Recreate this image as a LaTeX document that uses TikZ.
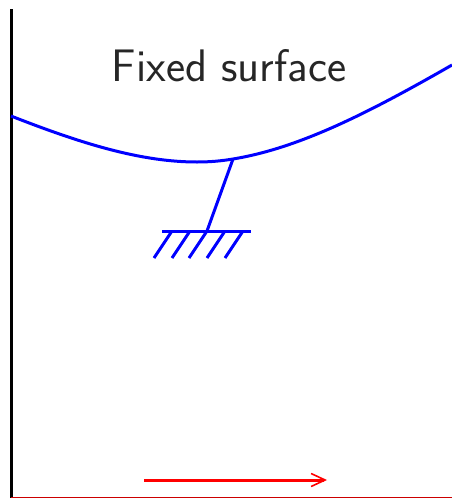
\documentclass[tikz,border=0pt]{standalone}
\usetikzlibrary{arrows.meta}
\tikzset{
  surf/.style={draw=blue,line width=3pt},
  axisline/.style={draw=black,line width=3pt},
  flow/.style={draw=red,line width=3pt,-{Straight Barb[length=14pt,width=13pt,line width=1.6pt]}},
  label/.style={text=black!85,font=\sffamily\fontsize{45.6}{46}\selectfont,inner sep=0pt}
}
\begin{document}
\begin{tikzpicture}[x=1pt,y=-1pt]
\useasboundingbox (0,0) rectangle (452,498);
\coordinate (axtop) at (11,9);
\coordinate (axbot) at (11,497.6);
\coordinate (axright) at (452,497.6);
\coordinate (sl) at (11,116);
\coordinate (sm) at (197,162);
\coordinate (sa) at (233,159);
\coordinate (sr) at (452,65);
\coordinate (gc) at (207,231);
\coordinate (gl) at (162,231);
\coordinate (gr) at (251,231);
\coordinate (fa) at (144,480);
\coordinate (fb) at (327,480);
\draw[axisline] (axtop) -- (axbot);
\draw[draw=red!80!black,line width=1pt] (axbot) -- (axright);
\draw[surf] (sl) .. controls (80,143) and (140,162) .. (sm)
  .. controls (210,162) and (221,161) .. (sa)
  .. controls (300,148) and (370,112) .. (sr);
\draw[surf] (sa) -- (gc);
\draw[surf] (gl) -- (gr);
\foreach \i/\x in {a/172,b/190,c/207,d/225,e/243}{
  \coordinate (h\i t) at (\x,231);
  \coordinate (h\i b) at (\x-18,258);
  \draw[surf] (h\i t) -- (h\i b);
}
\draw[flow] (fa) -- (fb);
\node[label] (title) at (229,66) {Fixed surface};
\end{tikzpicture}
\end{document}
